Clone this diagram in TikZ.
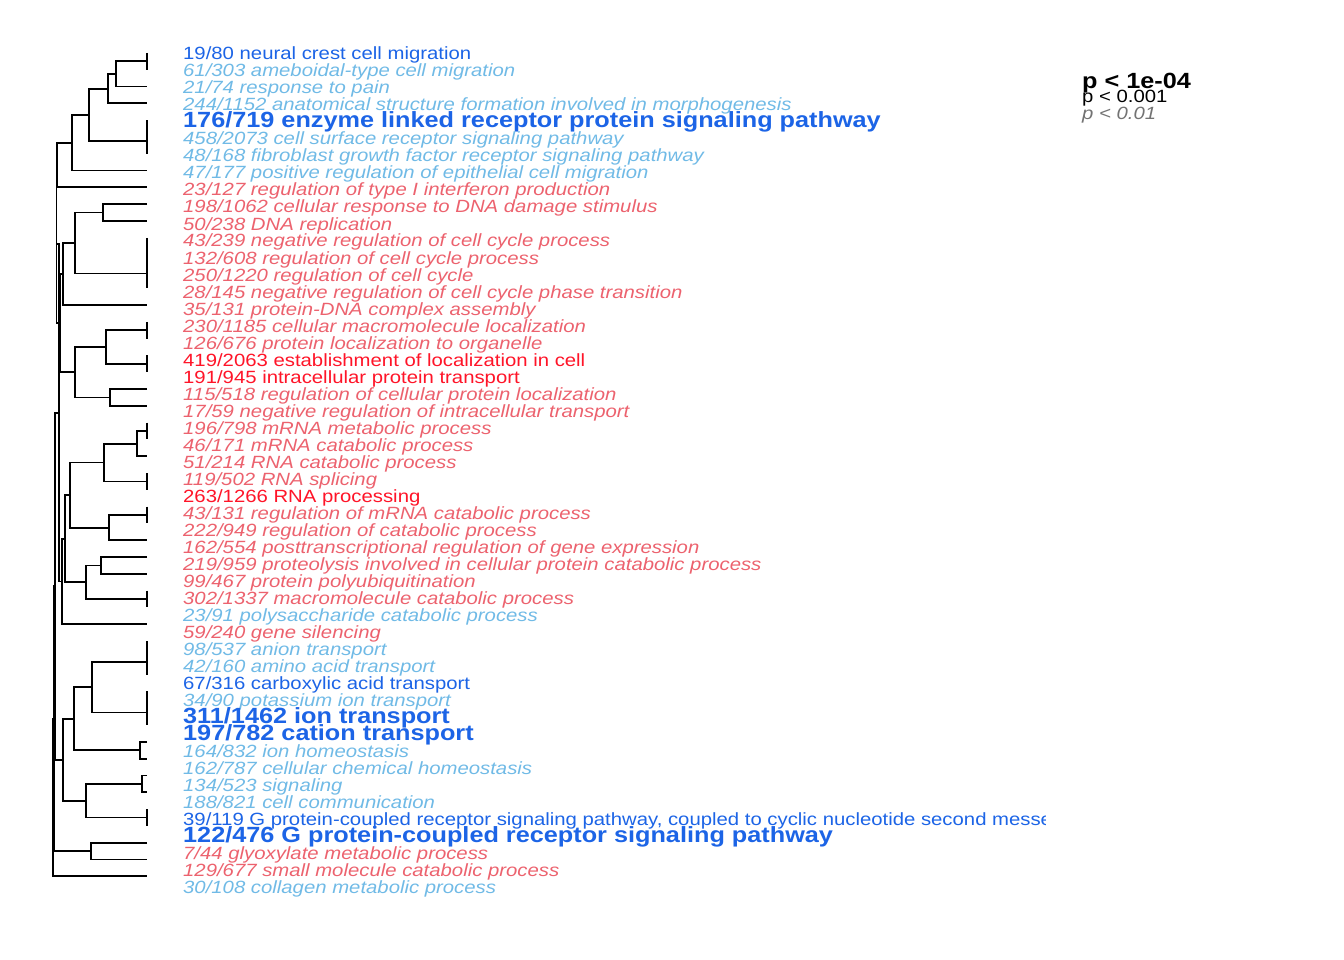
\documentclass[tikz,border=0pt]{standalone}
\usepackage{fontspec}
\setmainfont{Liberation Sans}[FakeStretch=1.148]
\definecolor{dnstrong}{RGB}{28,100,230}
\definecolor{upstrong}{RGB}{255,20,40}
\definecolor{dnweak}{RGB}{112,186,230}
\definecolor{upweak}{RGB}{236,98,110}
\tikzset{
  tree/.style={line width=1.8pt},
  term/.style={anchor=base west, inner sep=0pt, font=\fontsize{17.7}{17.7}\selectfont},
  weak/.style={term, font=\fontsize{17.7}{17.7}\selectfont\itshape},
  strong/.style={term, font=\fontsize{22}{22}\selectfont\bfseries},
}
\begin{document}
\begin{tikzpicture}[x=1pt,y=-1pt]
    \useasboundingbox (0,0) rectangle (1344,960);
    % Leaves
    \foreach \i in {1,...,50}
        \coordinate (l\i) at (147,{53+16.8*(\i-1)});
    % Branch points, top cluster
    \coordinate (a12) at (147,61.4);
    \coordinate (n3) at (116,74.0);
    \coordinate (n4) at (108,88.7);
    \coordinate (a56) at (147,128.6);
    \coordinate (a57) at (147,141.2);
    \coordinate (n5) at (89,114.9);
    \coordinate (n6) at (72,142.8);
    \coordinate (m) at (57,165.1);
    % cell cycle cluster
    \coordinate (b11) at (103,212.6);
    \coordinate (a13) at (147,246.2);
    \coordinate (a14) at (147,258.8);
    \coordinate (a15) at (147,273.5);
    \coordinate (b15) at (75,243.0);
    \coordinate (nn) at (63,274.0);
    % localization cluster
    \coordinate (a18) at (147,330.2);
    \coordinate (a20) at (147,363.8);
    \coordinate (ca) at (106,347.0);
    \coordinate (cb) at (110,397.4);
    \coordinate (cc) at (75,372.2);
    \coordinate (o) at (60.3,323.1);
    \coordinate (w1) at (56.5,244.1);
    % RNA / catabolic cluster
    \coordinate (a24) at (147,431.0);
    \coordinate (d) at (137,443.6);
    \coordinate (a27) at (147,481.4);
    \coordinate (f) at (104,462.5);
    \coordinate (a29) at (147,515.0);
    \coordinate (g) at (109,527.6);
    \coordinate (h) at (69.7,495.0);
    \coordinate (ii) at (101,565.4);
    \coordinate (a34) at (147,599.0);
    \coordinate (j) at (86,582.2);
    \coordinate (k) at (65.3,538.6);
    \coordinate (lk) at (62,581.4);
    \coordinate (w2) at (59,412.7);
    % transport / signaling cluster
    \coordinate (a37) at (147,649.4);
    \coordinate (p) at (147,662.0);
    \coordinate (a40) at (147,699.8);
    \coordinate (q) at (147,712.4);
    \coordinate (r) at (91.7,687.2);
    \coordinate (a43) at (140,750.2);
    \coordinate (s) at (74.3,718.7);
    \coordinate (a45) at (141.7,783.8);
    \coordinate (a47) at (147,817.4);
    \coordinate (t) at (86,800.6);
    \coordinate (u) at (62.7,759.6);
    \coordinate (v) at (91,851.0);
    \coordinate (z) at (55,586.2);
    \coordinate (y1) at (54,718.6);
    \coordinate (root) at (53.3,797.4);
    % Tree
    \begin{scope}[tree]
        \draw (l1) -| (a12) |- (l2);
        \draw (a12) -| (n3) |- (l3);
        \draw (n3) -| (n4) |- (l4);
        \draw (l5) -| (a56) |- (l6);
        \draw (a56) -| (a57) |- (l7);
        \draw (n4) -| (n5) |- (a57);
        \draw (n5) -| (n6) |- (l8);
        \draw (n6) -| (m) |- (l9);
        \draw (l10) -| (b11) |- (l11);
        \draw (l12) -| (a13) |- (l13);
        \draw (a13) -| (a14) |- (l14);
        \draw (a14) -| (a15) |- (l15);
        \draw (b11) -| (b15) |- (a15);
        \draw (b15) -| (nn) |- (l16);
        \draw (l17) -| (a18) |- (l18);
        \draw (l19) -| (a20) |- (l20);
        \draw (a18) -| (ca) |- (a20);
        \draw (l21) -| (cb) |- (l22);
        \draw (ca) -| (cc) |- (cb);
        \draw (nn) -| (o) |- (cc);
        \draw (m) -| (w1) |- (o);
        \draw (l23) -| (a24) |- (l24);
        \draw (a24) -| (d) |- (l25);
        \draw (l26) -| (a27) |- (l27);
        \draw (d) -| (f) |- (a27);
        \draw (l28) -| (a29) |- (l29);
        \draw (a29) -| (g) |- (l30);
        \draw (f) -| (h) |- (g);
        \draw (l31) -| (ii) |- (l32);
        \draw (l33) -| (a34) |- (l34);
        \draw (ii) -| (j) |- (a34);
        \draw (h) -| (k) |- (j);
        \draw (k) -| (lk) |- (l35);
        \draw (w1) -| (w2) |- (lk);
        \draw (l36) -| (a37) |- (l37);
        \draw (a37) -| (p) |- (l38);
        \draw (l39) -| (a40) |- (l40);
        \draw (a40) -| (q) |- (l41);
        \draw (p) -| (r) |- (q);
        \draw (l42) -| (a43) |- (l43);
        \draw (r) -| (s) |- (a43);
        \draw (l44) -| (a45) |- (l45);
        \draw (l46) -| (a47) |- (l47);
        \draw (a45) -| (t) |- (a47);
        \draw (s) -| (u) |- (t);
        \draw (l48) -| (v) |- (l49);
        \draw (w2) -| (z) |- (u);
        \draw (z) -| (y1) |- (v);
        \draw (y1) -| (root) |- (l50);
    \end{scope}
    % GO terms
    \node[term, dnstrong] (t1) at (183,60) {19/80 neural crest cell migration};
    \node[weak, dnweak] (t2) at (183,77) {61/303 ameboidal-type cell migration};
    \node[weak, dnweak] (t3) at (183,94) {21/74 response to pain};
    \node[weak, dnweak] (t4) at (183,111) {244/1152 anatomical structure formation involved in morphogenesis};
    \node[strong, dnstrong] (t5) at (183,128) {176/719 enzyme linked receptor protein signaling pathway};
    \node[weak, dnweak] (t6) at (183,145) {458/2073 cell surface receptor signaling pathway};
    \node[weak, dnweak] (t7) at (183,162) {48/168 fibroblast growth factor receptor signaling pathway};
    \node[weak, dnweak] (t8) at (183,179) {47/177 positive regulation of epithelial cell migration};
    \node[weak, upweak] (t9) at (183,196) {23/127 regulation of type I interferon production};
    \node[weak, upweak] (t10) at (183,213) {198/1062 cellular response to DNA damage stimulus};
    \node[weak, upweak] (t11) at (183,230) {50/238 DNA replication};
    \node[weak, upweak] (t12) at (183,247) {43/239 negative regulation of cell cycle process};
    \node[weak, upweak] (t13) at (183,264) {132/608 regulation of cell cycle process};
    \node[weak, upweak] (t14) at (183,281) {250/1220 regulation of cell cycle};
    \node[weak, upweak] (t15) at (183,298) {28/145 negative regulation of cell cycle phase transition};
    \node[weak, upweak] (t16) at (183,315) {35/131 protein-DNA complex assembly};
    \node[weak, upweak] (t17) at (183,332) {230/1185 cellular macromolecule localization};
    \node[weak, upweak] (t18) at (183,349) {126/676 protein localization to organelle};
    \node[term, upstrong] (t19) at (183,366) {419/2063 establishment of localization in cell};
    \node[term, upstrong] (t20) at (183,383) {191/945 intracellular protein transport};
    \node[weak, upweak] (t21) at (183,400) {115/518 regulation of cellular protein localization};
    \node[weak, upweak] (t22) at (183,417) {17/59 negative regulation of intracellular transport};
    \node[weak, upweak] (t23) at (183,434) {196/798 mRNA metabolic process};
    \node[weak, upweak] (t24) at (183,451) {46/171 mRNA catabolic process};
    \node[weak, upweak] (t25) at (183,468) {51/214 RNA catabolic process};
    \node[weak, upweak] (t26) at (183,485) {119/502 RNA splicing};
    \node[term, upstrong] (t27) at (183,502) {263/1266 RNA processing};
    \node[weak, upweak] (t28) at (183,519) {43/131 regulation of mRNA catabolic process};
    \node[weak, upweak] (t29) at (183,536) {222/949 regulation of catabolic process};
    \node[weak, upweak] (t30) at (183,553) {162/554 posttranscriptional regulation of gene expression};
    \node[weak, upweak] (t31) at (183,570) {219/959 proteolysis involved in cellular protein catabolic process};
    \node[weak, upweak] (t32) at (183,587) {99/467 protein polyubiquitination};
    \node[weak, upweak] (t33) at (183,604) {302/1337 macromolecule catabolic process};
    \node[weak, dnweak] (t34) at (183,621) {23/91 polysaccharide catabolic process};
    \node[weak, upweak] (t35) at (183,638) {59/240 gene silencing};
    \node[weak, dnweak] (t36) at (183,655) {98/537 anion transport};
    \node[weak, dnweak] (t37) at (183,672) {42/160 amino acid transport};
    \node[term, dnstrong] (t38) at (183,689) {67/316 carboxylic acid transport};
    \node[weak, dnweak] (t39) at (183,706) {34/90 potassium ion transport};
    \node[strong, dnstrong] (t40) at (183,723) {311/1462 ion transport};
    \node[strong, dnstrong] (t41) at (183,740) {197/782 cation transport};
    \node[weak, dnweak] (t42) at (183,757) {164/832 ion homeostasis};
    \node[weak, dnweak] (t43) at (183,774) {162/787 cellular chemical homeostasis};
    \node[weak, dnweak] (t44) at (183,791) {134/523 signaling};
    \node[weak, dnweak] (t45) at (183,808) {188/821 cell communication};
    \begin{scope}
        \clip (0,0) rectangle (1045,960);
        \node[term, dnstrong] (t46) at (183,825) {39/119 G protein-coupled receptor signaling pathway, coupled to cyclic nucleotide second messenger};
    \end{scope}
    \node[strong, dnstrong] (t47) at (183,842) {122/476 G protein-coupled receptor signaling pathway};
    \node[weak, upweak] (t48) at (183,859) {7/44 glyoxylate metabolic process};
    \node[weak, upweak] (t49) at (183,876) {129/677 small molecule catabolic process};
    \node[weak, dnweak] (t50) at (183,893) {30/108 collagen metabolic process};
    % Legend
    \node[strong] (key1) at (1082,89) {p < 1e-04};
    \node[term] (key2) at (1082,103) {p < 0.001};
    \node[weak, black!55] (key3) at (1082,120) {p < 0.01};
\end{tikzpicture}
\end{document}
